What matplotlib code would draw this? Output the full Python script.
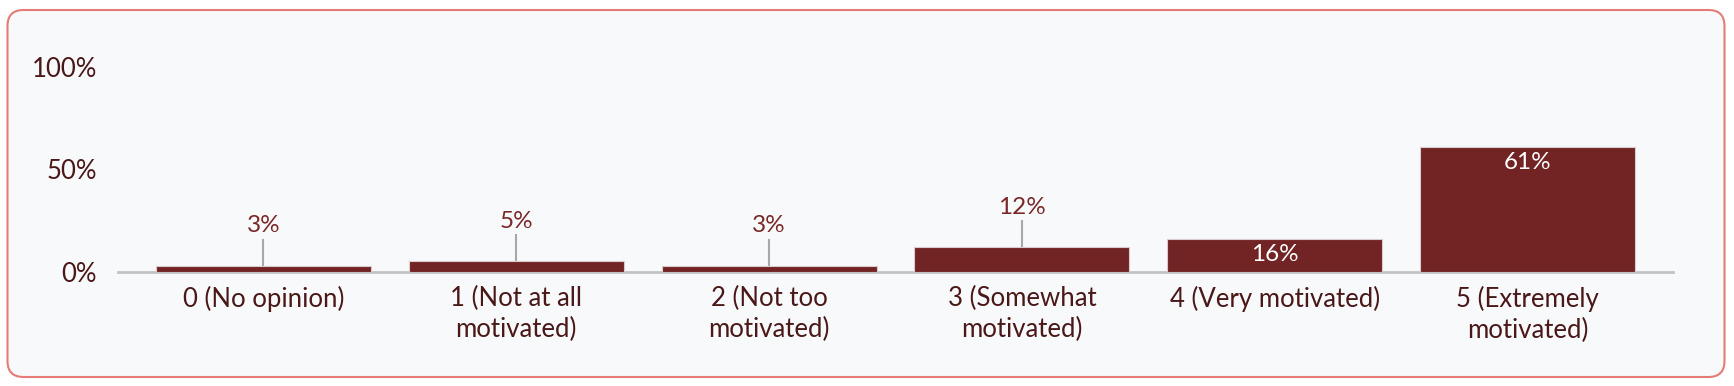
import matplotlib
matplotlib.use("Agg")
import matplotlib.pyplot as plt
from matplotlib.patches import FancyBboxPatch
import numpy as np

categories = ["0 (No opinion)", "1 (Not at all\nmotivated)", "2 (Not too\nmotivated)",
              "3 (Somewhat\nmotivated)", "4 (Very motivated)", "5 (Extremely\nmotivated)"]
values = [3, 5, 3, 12, 16, 61]
yticks = [0, 50, 100]
ytick_labels = ["0%", "50%", "100%"]

plt.rcParams['font.family'] = ['Lato', 'DejaVu Sans']

bar_color = '#722424'
text_color = '#4a1818'
label_color = '#7a2828'
bg = '#f8f9fb'
fs = 17.5
tick_fs = 18.5

W, H = 1734, 386
fig = plt.figure(figsize=(W / 100, H / 100), dpi=100)
fig.patch.set_facecolor('white')

# background axes in pixel units for the rounded frame
bgax = fig.add_axes([0, 0, 1, 1], zorder=-1)
bgax.set_xlim(0, W)
bgax.set_ylim(0, H)
bgax.axis('off')
frame = FancyBboxPatch((7.5, H - 377), 1717, 367,
                       boxstyle="round,pad=0,rounding_size=16",
                       facecolor=bg, edgecolor='#e57b75', linewidth=1.5)
bgax.add_patch(frame)

ax = fig.add_axes([118 / W, (H - 271.7) / H, 1555 / W, (271.7 - 67) / H])
ax.set_facecolor('none')

x = np.arange(len(categories))
ax.bar(x, values, width=0.85, color=bar_color, edgecolor='#d8cccc', linewidth=0.8, zorder=2)

ax.set_xlim(-0.575, len(categories) - 0.425)
ax.set_ylim(0, 100)

for s in ['top', 'right', 'left']:
    ax.spines[s].set_visible(False)
ax.spines['bottom'].set_color('#c4c4c4')
ax.spines['bottom'].set_linewidth(2)
ax.spines['bottom'].set_zorder(1)

ax.set_yticks(yticks)
ax.set_yticklabels(ytick_labels, fontsize=tick_fs, color=text_color)
ax.tick_params(axis='y', length=0, pad=15)
ax.set_xticks(x)
ax.set_xticklabels(categories, fontsize=tick_fs, color=text_color, linespacing=1.3, va='top')
ax.tick_params(axis='x', length=0, pad=10)

px = 100.0 / (271.7 - 67)  # data units per pixel
for xi, v in zip(x, values):
    if v >= 15:
        ax.text(xi, v - 16 * px, f"{v}%", ha='center', va='center',
                fontsize=fs, color='white', zorder=3)
    else:
        ax.plot([xi, xi], [v, v + 26 * px], color='#a8a8a8', linewidth=1.5, zorder=1)
        ax.text(xi, v + 40 * px, f"{v}%", ha='center', va='center',
                fontsize=fs, color=label_color, zorder=3)

fig.savefig("out.png", dpi=100, facecolor=fig.get_facecolor())
